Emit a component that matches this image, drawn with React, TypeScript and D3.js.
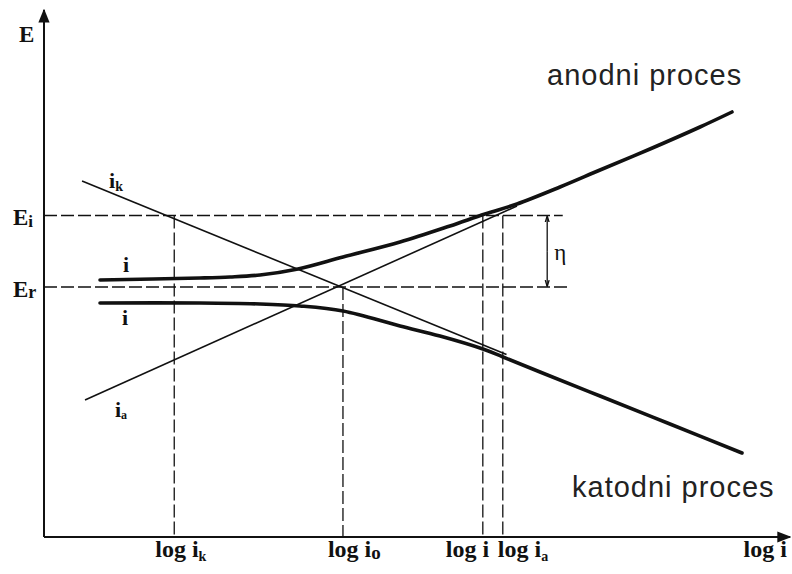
import React from 'react';
import * as d3 from 'd3';

// values: x = log i, y = E (arbitrary units)
const anodicCurve: [number, number][] = [
  [0.757, 5.14], [2.108, 5.18], [2.514, 5.2], [2.919, 5.24], [3.432, 5.36],
  [4.041, 5.6], [4.811, 5.9], [5.486, 6.22], [5.959, 6.46], [6.392, 6.66],
  [6.973, 7.0], [7.514, 7.34], [8.189, 7.76], [8.865, 8.2], [9.297, 8.5],
];
const cathodicCurve: [number, number][] = [
  [0.757, 4.68], [2.108, 4.68], [2.919, 4.66], [3.459, 4.62], [4.041, 4.52],
  [4.811, 4.22], [5.351, 4.02], [5.932, 3.76], [6.203, 3.6], [6.703, 3.3],
  [7.514, 2.82], [8.459, 2.26], [9.432, 1.68],
];
const ikLine: [number, number][] = [[0.514, 7.12], [6.25, 3.65]];
const iaLine: [number, number][] = [[0.554, 2.74], [6.392, 6.62]];

const E_I = 6.43;
const E_R = 5.0;
const X_MAX = 10.08;
const Y_MAX = 10.54;

const tickValues = [1.76, 4.04, 5.93, 6.2];
const tickSubs = ['k', 'o', '', 'a'];
const tickFrom = [E_I, E_R, E_I, E_I];
const eiLineEnd = 7.01;
const erLineEnd = 7.08;
const etaX = 6.8;

const serif = '"Liberation Serif", "Times New Roman", serif';
const sans = '"Liberation Sans", Arial, sans-serif';

export default function App() {
  const x = d3.scaleLinear().domain([0, 10]).range([44, 784]);
  const y = d3.scaleLinear().domain([0, 10]).range([537, 37]);

  const smooth = d3.line<[number, number]>()
    .x(d => x(d[0]))
    .y(d => y(d[1]))
    .curve(d3.curveCatmullRom.alpha(0.5));
  const straight = d3.line<[number, number]>()
    .x(d => x(d[0]))
    .y(d => y(d[1]));

  const ink = '#111';
  // label offsets so "log i" and "log ia" don't collide
  const tickDx = [-19, -15, -37, -5];

  return (
    <svg width={792} height={574} style={{ position: 'absolute', left: 0, top: 0, background: '#fff' }}>
      <defs>
        <marker id="arr" viewBox="0 0 10 10" refX="9" refY="5" markerWidth="7" markerHeight="7" orient="auto">
          <path d="M0,1 L10,5 L0,9 Z" fill={ink} />
        </marker>
        <marker id="tip" viewBox="0 0 10 10" refX="9" refY="5" markerWidth="5" markerHeight="5" orient="auto">
          <path d="M0,2 L10,5 L0,8" fill="none" stroke={ink} strokeWidth="2" />
        </marker>
      </defs>

      {/* axes */}
      <line x1={x(0)} y1={y(0)} x2={x(0)} y2={y(Y_MAX)} stroke={ink} strokeWidth={2} markerEnd="url(#arr)" />
      <line x1={x(0)} y1={y(0)} x2={x(X_MAX)} y2={y(0)} stroke={ink} strokeWidth={2} markerEnd="url(#arr)" />

      {/* dashed guides */}
      <g stroke={ink} strokeWidth={1.3} strokeDasharray="13 4" fill="none">
        <line x1={x(0)} y1={y(E_I)} x2={x(eiLineEnd)} y2={y(E_I)} />
        <line x1={x(0)} y1={y(E_R)} x2={x(erLineEnd)} y2={y(E_R)} />
        {tickValues.map((v, i) => (
          <line key={i} x1={x(v)} y1={y(tickFrom[i])} x2={x(v)} y2={y(0)} />
        ))}
      </g>

      {/* eta bracket */}
      <line x1={x(etaX)} y1={y((E_I + E_R) / 2)} x2={x(etaX)} y2={y(E_I) + 1} stroke={ink} strokeWidth={1.3} markerEnd="url(#tip)" />
      <line x1={x(etaX)} y1={y((E_I + E_R) / 2)} x2={x(etaX)} y2={y(E_R) - 1} stroke={ink} strokeWidth={1.3} markerEnd="url(#tip)" />
      <text x={x(etaX) + 7} y={y((E_I + E_R) / 2) + 9} fontFamily={serif} fontSize={23} fill={ink}>η</text>

      {/* Tafel asymptotes */}
      <path d={straight(ikLine) ?? ''} fill="none" stroke={ink} strokeWidth={1.6} />
      <path d={straight(iaLine) ?? ''} fill="none" stroke={ink} strokeWidth={1.6} />

      {/* polarisation curves */}
      <path d={smooth(anodicCurve) ?? ''} fill="none" stroke={ink} strokeWidth={3.6} strokeLinecap="round" />
      <path d={smooth(cathodicCurve) ?? ''} fill="none" stroke={ink} strokeWidth={3.6} strokeLinecap="round" />

      {/* curve labels */}
      <g fontFamily={serif} fontWeight="bold" fill={ink}>
        <text x={x(ikLine[0][0]) + 27} y={y(ikLine[0][1]) + 7} fontSize={22}>
          i<tspan fontSize={14} dy={3}>k</tspan>
        </text>
        <text x={x(anodicCurve[0][0]) + 23} y={y(anodicCurve[0][1]) - 8} fontSize={22}>i</text>
        <text x={x(cathodicCurve[0][0]) + 22} y={y(cathodicCurve[0][1]) + 22} fontSize={22}>i</text>
        <text x={x(iaLine[0][0]) + 30} y={y(iaLine[0][1]) + 17} fontSize={22}>
          i<tspan fontSize={12} dy={2}>a</tspan>
        </text>
      </g>

      {/* y labels */}
      <g fontFamily={serif} fontWeight="bold" fill={ink}>
        <text x={x(0) - 25} y={y(Y_MAX) + 32} fontSize={23}>E</text>
        <text x={x(0) - 31} y={y(E_I) + 9} fontSize={23}>
          E<tspan fontSize={17} dy={2}>i</tspan>
        </text>
        <text x={x(0) - 31} y={y(E_R) + 10} fontSize={23}>
          E<tspan fontSize={18} dy={1}>r</tspan>
        </text>
      </g>

      {/* x tick labels */}
      <g fontFamily={serif} fontWeight="bold" fill={ink} fontSize={24}>
        {tickValues.map((v, i) => (
          <text key={i} x={x(v) + tickDx[i]} y={y(0) + 20}>
            log i
            {tickSubs[i] && (
              <tspan fontSize={tickSubs[i] === 'o' ? 19 : 14} dy={tickSubs[i] === 'o' ? 2 : 4}>{tickSubs[i]}</tspan>
            )}
          </text>
        ))}
        <text x={x(X_MAX) - 3} y={y(0) + 20} textAnchor="end">log i</text>
      </g>

      {/* process labels */}
      <text x={547} y={85} fontFamily={sans} fontSize={29} letterSpacing={1} fill="#222">anodni proces</text>
      <text x={572} y={497} fontFamily={sans} fontSize={29} letterSpacing={1} fill="#222">katodni proces</text>
    </svg>
  );
}
